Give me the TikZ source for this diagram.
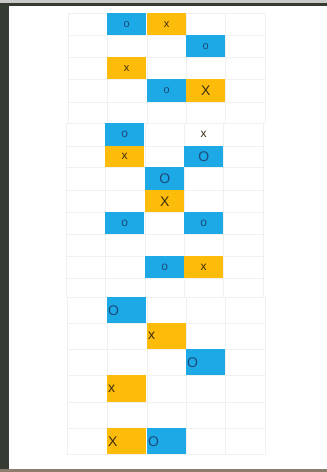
\documentclass[tikz,border=0pt]{standalone}
\usepackage{fontspec}
\setmainfont{Liberation Sans}
\definecolor{cblue}{HTML}{1CA9E6}
\definecolor{cyel}{HTML}{FDBB0A}
\definecolor{ob}{HTML}{1D4A78}
\definecolor{xb}{HTML}{3A2E12}
\definecolor{gridc}{HTML}{F0F0F0}
\definecolor{bgdark}{HTML}{353B33}
\definecolor{bgtop}{HTML}{C9C9C7}
\definecolor{bgbot}{HTML}{8C7C6C}
\tikzset{
  cellbase/.style={anchor=north west, inner sep=0pt, minimum width=39pt},
  bcell/.style={cellbase, fill=cblue, text=ob},
  ycell/.style={cellbase, fill=cyel, text=xb},
  wcell/.style={cellbase, text=xb},
  lcell/.style={text width=37pt, align=left, inner xsep=1pt, inner ysep=0pt, anchor=north west},
  gridline/.style={draw=gridc, line width=0.6pt},
  small/.style={font=\fontsize{11}{11}\selectfont},
  mid/.style={font=\fontsize{12}{12}\selectfont},
  big/.style={font=\fontsize{14}{14}\selectfont}
}
\begin{document}
\begin{tikzpicture}[x=1pt,y=-1pt]
\useasboundingbox (0,0) rectangle (327,472);
% photo background around the page
\fill[bgdark] (0,0) rectangle (327,472);
\fill[bgtop] (0,0) rectangle (327,3);
\fill[bgbot] (0,469) rectangle (327,472);
\fill[white] (9,6) rectangle (327,469);
% block 1 grid
\foreach \x in {68,107,147,186,225,265} \draw[gridline] (\x,13) -- (\x,123);
\foreach \y in {13,35,57,79,102} \draw[gridline] (68,\y) -- (265,\y);
% block 2 grid
\foreach \x in {66,105,145,184,223,263} \draw[gridline] (\x,123) -- (\x,297);
\foreach \y in {123,146,167,190,212,234,256,278} \draw[gridline] (66,\y) -- (263,\y);
% block 3 grid
\foreach \x in {67,107,147,186,225,265} \draw[gridline] (\x,297) -- (\x,454);
\foreach \y in {297,323,349,375,402,428,454} \draw[gridline] (67,\y) -- (265,\y);
% block 1 cells
\node[bcell, small, minimum height=22pt] (a1) at (107,13) {o};
\node[ycell, small, minimum height=22pt] (a2) at (147,13) {x};
\node[bcell, small, minimum height=22pt] (a3) at (186,35) {o};
\node[ycell, small, minimum height=22pt] (a4) at (107,57) {x};
\node[bcell, small, minimum height=23pt] (a5) at (147,79) {o};
\node[ycell, big, minimum height=23pt] (a6) at (186,79) {X};
% block 2 cells
\node[bcell, mid, minimum height=23pt] (b1) at (105,123) {o};
\node[wcell, mid, minimum height=23pt] (b2) at (184,123) {x};
\node[ycell, mid, minimum height=21pt] (b3) at (105,146) {x};
\node[bcell, big, minimum height=21pt] (b4) at (184,146) {O};
\node[bcell, big, minimum height=23pt] (b5) at (145,167) {O};
\node[ycell, big, minimum height=22pt] (b6) at (145,190) {X};
\node[bcell, mid, minimum height=22pt] (b7) at (105,212) {o};
\node[bcell, mid, minimum height=22pt] (b8) at (184,212) {o};
\node[bcell, mid, minimum height=22pt] (b9) at (145,256) {o};
\node[ycell, mid, minimum height=22pt] (b10) at (184,256) {x};
% block 3 cells
\node[bcell, lcell, big, minimum height=26pt] (c1) at (107,297) {O};
\node[ycell, lcell, big, minimum height=26pt] (c2) at (147,323) {x};
\node[bcell, lcell, big, minimum height=26pt] (c3) at (186,349) {O};
\node[ycell, lcell, big, minimum height=27pt] (c4) at (107,375) {x};
\node[ycell, lcell, big, minimum height=26pt] (c5) at (107,428) {X};
\node[bcell, lcell, big, minimum height=26pt] (c6) at (147,428) {O};
\end{tikzpicture}
\end{document}
